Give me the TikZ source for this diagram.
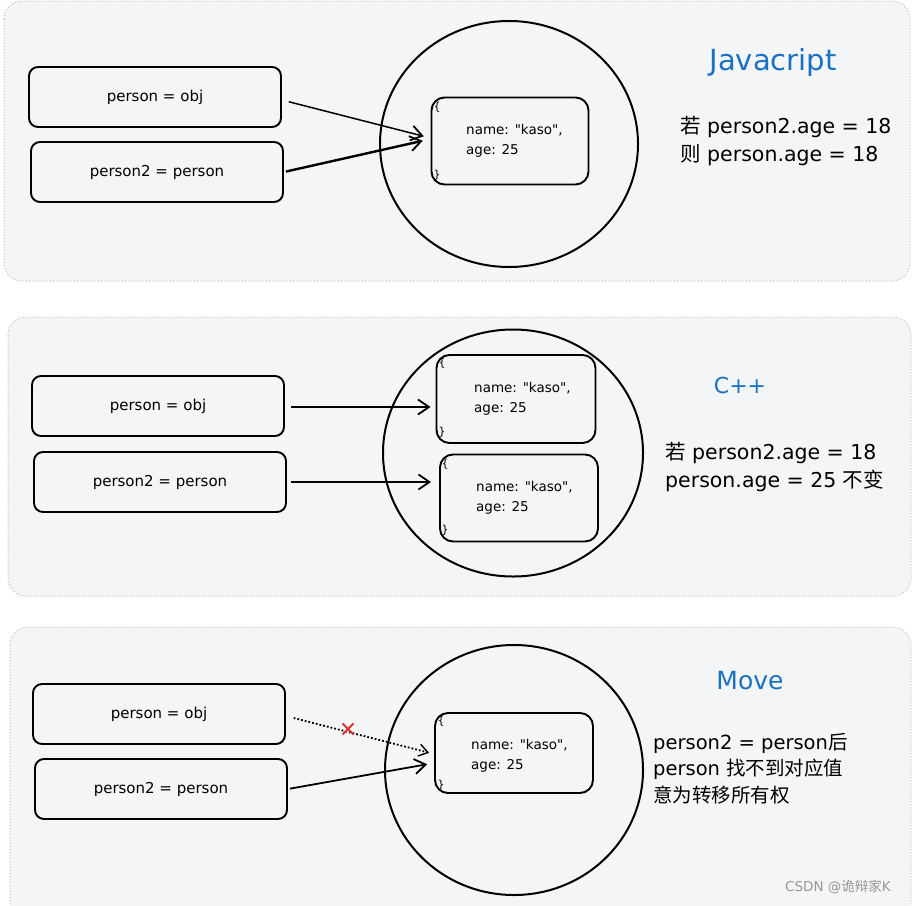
\documentclass[tikz,border=0pt]{standalone}
\usepackage{fontspec}
\setmainfont{DejaVu Sans}[Ligatures=TeXOff]
\newfontfamily\cjk{Noto Sans CJK SC}
\usetikzlibrary{arrows.meta,shapes.geometric,shapes.misc,calc}
\definecolor{panelbg}{RGB}{244,245,247}
\definecolor{panelborder}{RGB}{185,189,194}
\definecolor{titleblue}{RGB}{25,113,194}
\definecolor{markred}{RGB}{224,49,49}
\definecolor{wmgray}{RGB}{150,150,150}
\begin{document}
\begin{tikzpicture}[x=1pt,y=-1pt,
  panel/.style={fill=panelbg, draw=panelborder, dotted, line width=1pt, rounded corners=18pt},
  varbox/.style={draw, line width=1.9pt, rounded corners=9pt, minimum width=252pt, minimum height=60pt, inner sep=0pt, font=\fontsize{15}{17}\selectfont},
  objbox/.style={draw, line width=1.9pt, rounded corners=13pt, minimum width=157pt, minimum height=87pt, inner sep=0pt},
  heap/.style={draw, line width=2pt, ellipse, inner sep=0pt},
  code/.style={anchor=north west, align=left, inner sep=0pt, font=\fontsize{13.5}{20.5}\selectfont},
  brace/.style={inner sep=0pt, font=\fontsize{11}{11}\selectfont},
  arr/.style={line width=1.8pt, -{Straight Barb[length=11pt,width=15pt,line width=1.8pt]}},
  title/.style={text=titleblue, inner sep=0pt},
  note/.style={anchor=north west, align=left, inner sep=0pt, font=\fontsize{20.5}{28}\selectfont},
  xmark/.style={draw=markred, cross out, line width=1.8pt, minimum size=9pt, inner sep=0pt}
]
\useasboundingbox (0,0) rectangle (912,905);
\fill[white] (0,0) rectangle (912,905);

% ---------- Panel 1: Javascript ----------
\draw[panel] (4,1) rectangle (910,281);
\node[heap, minimum width=258pt, minimum height=246pt] (h1) at (509,144) {};
\node[varbox] (v11) at (155,97) {person = obj};
\node[varbox] (v12) at (157,172) {person2 = person};
\node[objbox] (o1) at (510,141) {};
\node[code] (c1) at (466,124) {name: "kaso",\\age: 25};
\node[brace] (b1o) at (437,107) {\{};
\node[brace] (b1c) at (437,175) {\}};
\draw[arr, line width=1.5pt, shorten <=7pt, shorten >=7pt] ($(v11.east)+(0,3)$) -- ($(o1.west)+(0,-3)$);
\draw[arr, line width=2.4pt, shorten <=2pt, shorten >=8pt] (v12.east) -- ($(o1.west)+(0,-2)$);
\node[title, font=\fontsize{29}{32}\selectfont] (t1) at (773,62) {Javacript};
\node[note] (n1) at (680,116) {{\cjk 若} person2.age = 18\\{\cjk 则} person.age = 18};

% ---------- Panel 2: C++ ----------
\draw[panel] (8,317) rectangle (911,596);
\node[heap, minimum width=260pt, minimum height=247pt] (h2) at (513,453) {};
\node[varbox] (v21) at (158,406) {person = obj};
\node[varbox] (v22) at (160,482) {person2 = person};
\node[objbox, minimum width=159pt, minimum height=88pt] (o21) at (516,399) {};
\node[objbox, minimum width=158pt, minimum height=87pt] (o22) at (519,498) {};
\node[code] (c21) at (474,382) {name: "kaso",\\age: 25};
\node[code] (c22) at (476,481) {name: "kaso",\\age: 25};
\node[brace] (b21o) at (442,363) {\{};
\node[brace] (b21c) at (442,432) {\}};
\node[brace] (b22o) at (445,464) {\{};
\node[brace] (b22c) at (445,530) {\}};
\draw[arr, shorten <=6pt, shorten >=5pt] ($(v21.east)+(0,1)$) -- (o21.west |- {$(v21.east)+(0,1)$});
\draw[arr, shorten <=4pt, shorten >=8pt] (v22.east) -- (o22.west |- v22.east);
\node[title, font=\fontsize{22}{26}\selectfont] (t2) at (740,385) {C++};
\node[note] (n2) at (665,442) {{\cjk 若} person2.age = 18\\person.age = 25 {\cjk 不变}};

% ---------- Panel 3: Move ----------
\draw[panel] (10,627) rectangle (911,920);
\node[heap, minimum width=258pt, minimum height=250pt] (h3) at (514,770) {};
\node[varbox] (v31) at (159,714) {person = obj};
\node[varbox] (v32) at (161,789) {person2 = person};
\node[objbox, minimum width=158pt, minimum height=80pt] (o3) at (514,753) {};
\node[code] (c3) at (471,739) {name: "kaso",\\age: 25};
\node[brace] (b3o) at (441,721) {\{};
\node[brace] (b3c) at (441,785) {\}};
\draw[dotted, line width=1.8pt, -{Straight Barb[length=9pt,width=12pt,line width=1.4pt]}, shorten <=8pt, shorten >=5pt] ($(v31.east)+(0,2)$) -- ($(o3.west)+(0,1)$);
\node[xmark] (x3) at (348,729) {};
\draw[arr, shorten <=2pt, shorten >=7pt] (v32.east) -- ($(o3.west)+(0,10)$);
\node[title, font=\fontsize{25}{28}\selectfont] (t3) at (750,681) {Move};
\node[note, font=\fontsize{19.5}{26.5}\selectfont] (n3) at (653,733) {person2 = person{\cjk 后}\\person {\cjk 找不到对应值}\\{\cjk 意为转移所有权}};
\node[text=wmgray, inner sep=0pt, font=\fontsize{13.5}{15}\selectfont] (wm) at (838,887) {CSDN @{\cjk 诡辩家}K};
\end{tikzpicture}
\end{document}
